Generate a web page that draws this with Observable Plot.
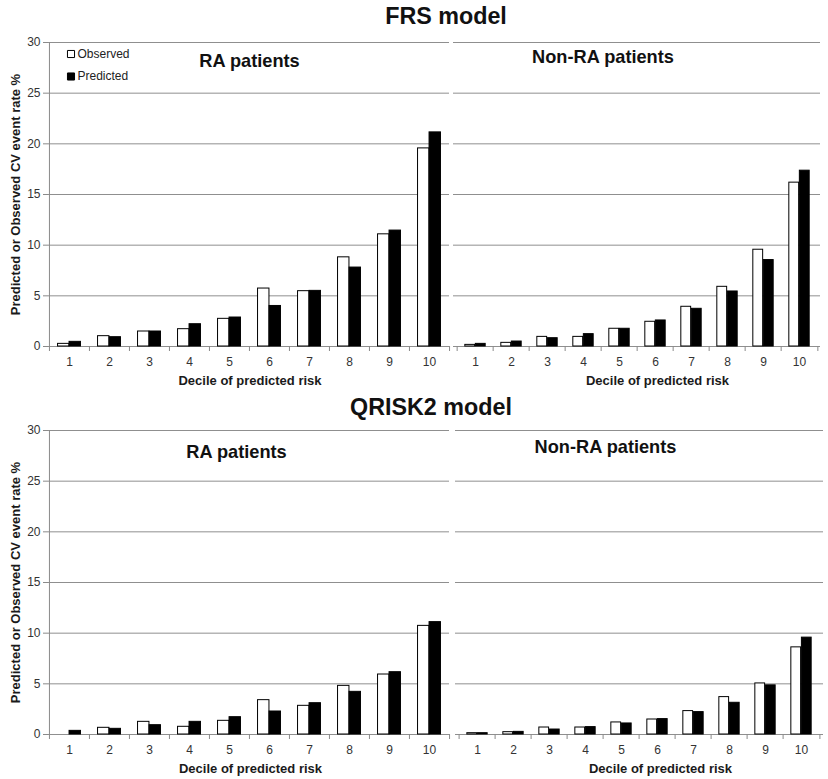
<!DOCTYPE html>
<html>
<head>
<meta charset="utf-8">
<script src="https://cdn.jsdelivr.net/npm/d3@7"></script>
<script src="https://cdn.jsdelivr.net/npm/@observablehq/plot@0.6"></script>
<style>
  body { margin: 0; background: #fff; font-family: "Liberation Sans", Arial, sans-serif; }
  #fig { position: relative; width: 828px; height: 779px; overflow: hidden; }
  #fig > svg, #fig > div { position: absolute; }
  .model-title { font-weight: bold; font-size: 23.3px; line-height: 23.3px; color: #111; transform: translateX(-50%); white-space: nowrap; }
</style>
</head>
<body>
<div id="fig"></div>
<script>
// ---------- data ----------
const deciles = [1, 2, 3, 4, 5, 6, 7, 8, 9, 10];
const yTicks = [0, 5, 10, 15, 20, 25, 30];
const seriesNames = ["Observed", "Predicted"];
const modelTitles = ["FRS model", "QRISK2 model"];
const groupTitles = ["RA patients", "Non-RA patients"];
const xTitle = "Decile of predicted risk";
const yTitle = "Predicted or Observed CV event rate %";

const frsRaObserved      = [0.26, 1.02, 1.48, 1.71, 2.73, 5.72, 5.46, 8.80, 11.07, 19.55];
const frsRaPredicted     = [0.46, 0.92, 1.48, 2.20, 2.86, 4.00, 5.49, 7.79, 11.44, 21.13];
const frsNonRaObserved   = [0.16, 0.36, 0.95, 0.95, 1.75, 2.44, 3.92, 5.89, 9.55, 16.17];
const frsNonRaPredicted  = [0.26, 0.49, 0.82, 1.22, 1.75, 2.57, 3.72, 5.43, 8.53, 17.35];
const qriskRaObserved    = [0.00, 0.66, 1.25, 0.76, 1.35, 3.39, 2.83, 4.80, 5.92, 10.72];
const qriskRaPredicted   = [0.36, 0.56, 0.92, 1.25, 1.71, 2.27, 3.09, 4.21, 6.15, 11.09];
const qriskNonRaObserved = [0.13, 0.23, 0.69, 0.69, 1.19, 1.48, 2.31, 3.69, 5.04, 8.60];
const qriskNonRaPredicted= [0.13, 0.26, 0.49, 0.73, 1.09, 1.52, 2.21, 3.13, 4.85, 9.56];

// ---------- layout / style ----------
const FONT = '"Liberation Sans", Arial, sans-serif';
const gridColor = "#8f8f8f";
const axisColor = "#8a8a8a";
const tickText = "#333";
const fig = document.getElementById("fig");

function panel(cfg) {
  const bw = (cfg.x1 - cfg.x0) / deciles.length;
  const barW = bw * 0.287;
  const rows = deciles.map((d, i) => ({decile: d, observed: cfg.obs[i], predicted: cfg.pred[i]}));
  const marks = [
    Plot.ruleY(yTicks, {y: d => d, stroke: gridColor, strokeWidth: 1}),
    Plot.ruleX(deciles, {x: d => d, y1: 0, y2: 0, insetBottom: -5, dx: -bw / 2, stroke: axisColor}),
    Plot.ruleX([deciles[deciles.length - 1]], {x: d => d, y1: 0, y2: 0, insetBottom: -5, dx: bw / 2, stroke: axisColor}),
    Plot.barY(rows, {x: "decile", y: "observed", fill: "white", stroke: "black", strokeWidth: 1,
      insetLeft: bw / 2 - barW, insetRight: bw / 2}),
    Plot.barY(rows, {x: "decile", y: "predicted", fill: "black", stroke: "black", strokeWidth: 1,
      insetLeft: bw / 2, insetRight: bw / 2 - barW}),
    Plot.axisX({tickSize: 0, tickPadding: 11, fontSize: 12, fill: tickText, label: null}),
    Plot.text([xTitle], {text: d => d, frameAnchor: "bottom", dy: 34, dx: cfg.xTitleDx,
      fontWeight: "bold", fontSize: 13, fill: "#1a1a1a", lineAnchor: "middle", textAnchor: "middle"}),
    Plot.text([cfg.group], {text: d => d, frameAnchor: "top", dy: cfg.groupDy, dx: cfg.groupDx,
      fontWeight: "bold", fontSize: 18.2, fill: "#111", lineAnchor: "middle", textAnchor: "middle"})
  ];
  if (cfg.showY) {
    marks.push(
      Plot.ruleX([deciles[0]], {x: d => d, y1: 0, y2: 30, dx: -bw / 2, stroke: axisColor}),
      Plot.axisY(yTicks, {tickSize: 5, tickPadding: 3, fontSize: 12, stroke: axisColor, fill: tickText, label: null}),
      Plot.text([yTitle], {text: d => d, frameAnchor: "left", rotate: -90, dx: -33,
        fontWeight: "bold", fontSize: 13, fill: "#1a1a1a", lineAnchor: "middle", textAnchor: "middle"})
    );
  }
  if (cfg.legend) {
    seriesNames.forEach((name, i) => {
      const dy = 11.5 + i * 22.5;
      marks.push(
        Plot.dot([name], {frameAnchor: "top-left", dx: 22.5, dy, symbol: "square", r: 4,
          fill: i === 0 ? "white" : "black", stroke: "black", strokeWidth: 1}),
        Plot.text([name], {text: d => d, frameAnchor: "top-left", dx: 29, dy, textAnchor: "start",
          fontSize: 12, fill: "#222", lineAnchor: "middle"})
      );
    });
  }
  const svg = Plot.plot({
    width: cfg.svgW,
    height: cfg.svgH,
    marginLeft: cfg.x0 - cfg.svgL,
    marginRight: cfg.svgL + cfg.svgW - cfg.x1,
    marginTop: cfg.yTop - cfg.svgT,
    marginBottom: cfg.svgT + cfg.svgH - cfg.yBot,
    style: {fontFamily: FONT, fontSize: "12px", background: "transparent", overflow: "visible"},
    x: {type: "band", domain: deciles, padding: 0},
    y: cfg.showY ? {domain: [0, 30]} : {domain: [0, 30], axis: null},
    marks
  });
  svg.style.left = cfg.svgL + "px";
  svg.style.top = cfg.svgT + "px";
  fig.appendChild(svg);
}

// titles
[[modelTitles[0], 446, 5], [modelTitles[1], 431, 396]].forEach(([t, x, y]) => {
  const d = document.createElement("div");
  d.className = "model-title";
  d.textContent = t;
  d.style.left = x + "px";
  d.style.top = y + "px";
  fig.appendChild(d);
});

panel({obs: frsRaObserved, pred: frsRaPredicted, group: groupTitles[0],
  svgL: 0, svgT: 0, svgW: 451, svgH: 390, x0: 48, x1: 449, yTop: 42, yBot: 346,
  showY: true, legend: true, xTitleDx: 1, groupDx: 0.5, groupDy: 18.5});
panel({obs: frsNonRaObserved, pred: frsNonRaPredicted, group: groupTitles[1],
  svgL: 451, svgT: 0, svgW: 377, svgH: 390, x0: 453, x1: 820, yTop: 42, yBot: 346,
  showY: false, legend: false, xTitleDx: 20.5, groupDx: -34, groupDy: 14.5});
panel({obs: qriskRaObserved, pred: qriskRaPredicted, group: groupTitles[0],
  svgL: 0, svgT: 390, svgW: 451, svgH: 389, x0: 48, x1: 449, yTop: 430, yBot: 734,
  showY: true, legend: false, xTitleDx: 1.5, groupDx: -12.5, groupDy: 22});
panel({obs: qriskNonRaObserved, pred: qriskNonRaPredicted, group: groupTitles[1],
  svgL: 451, svgT: 390, svgW: 377, svgH: 389, x0: 455, x1: 823, yTop: 430, yBot: 734,
  showY: false, legend: false, xTitleDx: 21, groupDx: -34, groupDy: 16.5});
</script>
</body>
</html>
